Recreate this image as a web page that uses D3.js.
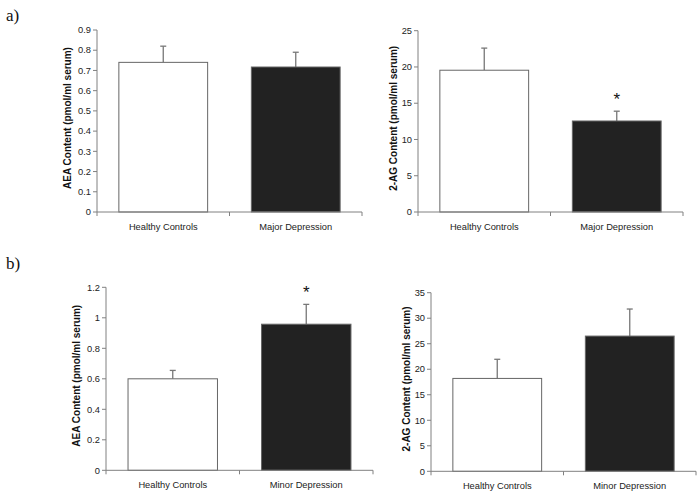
<!DOCTYPE html>
<html><head><meta charset="utf-8">
<script src="https://cdn.jsdelivr.net/npm/d3@7"></script>
<style>body{margin:0;background:#fff}svg{display:block}</style>
</head><body>
<svg id="c" width="700" height="492"></svg>
<script>
// Data
const groupsA = ["Healthy Controls", "Major Depression"];
const groupsB = ["Healthy Controls", "Minor Depression"];
const aeaMajor = [0.74, 0.717];
const aeaMajorErr = [0.08, 0.073];
const agMajor = [19.55, 12.55];
const agMajorErr = [3.05, 1.35];
const aeaMinor = [0.60, 0.958];
const aeaMinorErr = [0.055, 0.13];
const agMinor = [18.2, 26.5];
const agMinorErr = [3.75, 5.3];
const sigAeaMajor = [false, false];
const sigAgMajor = [false, true];
const sigAeaMinor = [false, true];
const sigAgMinor = [false, false];
const ticksAeaMajor = [0, 0.1, 0.2, 0.3, 0.4, 0.5, 0.6, 0.7, 0.8, 0.9];
const ticksAgMajor = [0, 5, 10, 15, 20, 25];
const ticksAeaMinor = [0, 0.2, 0.4, 0.6, 0.8, 1, 1.2];
const ticksAgMinor = [0, 5, 10, 15, 20, 25, 30, 35];
const titleAea = "AEA Content (pmol/ml serum)";
const titleAg = "2-AG Content (pmol/ml serum)";
const barFills = ["#ffffff", "#222222"];

const svg = d3.select("#c");
const axisCol = "#808080";
const sans = "Liberation Sans, Arial, sans-serif";

function panel(o) {
  const g = svg.append("g");
  const x = d3.scaleBand().domain(o.groups).range([o.x0, o.x1]).paddingInner(0.33).paddingOuter(0.165);
  const y = d3.scaleLinear().domain([0, o.ymax]).range([o.y0, o.y1]);
  o.groups.forEach((c, i) => {
    const v = o.values[i], e = o.errs[i];
    const cx = x(c) + x.bandwidth() / 2;
    g.append("line").attr("x1", cx).attr("x2", cx).attr("y1", y(v)).attr("y2", y(v + e))
      .attr("stroke", "#777").attr("stroke-width", 1.3);
    g.append("line").attr("x1", cx - 3).attr("x2", cx + 3).attr("y1", y(v + e)).attr("y2", y(v + e))
      .attr("stroke", "#777").attr("stroke-width", 1.3);
    g.append("rect").attr("x", x(c)).attr("y", y(v)).attr("width", x.bandwidth()).attr("height", y(0) - y(v))
      .attr("fill", barFills[i]).attr("stroke", "#666").attr("stroke-width", 1);
    if (o.sig[i]) {
      g.append("text").attr("x", cx).attr("y", y(v + e) - 6).attr("text-anchor", "middle")
        .attr("font-family", sans).attr("font-size", 17).attr("fill", "#111").text("*");
    }
  });
  g.append("line").attr("x1", o.x0).attr("x2", o.x0).attr("y1", o.y0).attr("y2", o.y1).attr("stroke", axisCol);
  o.ticks.forEach(t => {
    g.append("line").attr("x1", o.x0 - 4).attr("x2", o.x0).attr("y1", y(t)).attr("y2", y(t)).attr("stroke", axisCol);
    g.append("text").attr("x", o.x0 - 6).attr("y", y(t)).attr("dy", "0.35em").attr("text-anchor", "end")
      .attr("font-family", sans).attr("font-size", 9.3).attr("fill", "#222").text(t);
  });
  g.append("line").attr("x1", o.x0).attr("x2", o.x1).attr("y1", o.y0).attr("y2", o.y0).attr("stroke", axisCol);
  [o.x0, (o.x0 + o.x1) / 2, o.x1].forEach(tx => {
    g.append("line").attr("x1", tx).attr("x2", tx).attr("y1", o.y0).attr("y2", o.y0 + 4).attr("stroke", axisCol);
  });
  o.groups.forEach(c => {
    g.append("text").attr("x", x(c) + x.bandwidth() / 2).attr("y", o.y0 + 18).attr("text-anchor", "middle")
      .attr("font-family", sans).attr("font-size", 9.3).attr("fill", "#222").text(c);
  });
  g.append("text").attr("transform", `translate(${o.tx},${(o.y0 + o.y1) / 2 - 3}) rotate(-90)`)
    .attr("dy", "0.35em").attr("text-anchor", "middle")
    .attr("font-family", sans).attr("font-size", 10).attr("font-weight", "bold")
    .attr("fill", "#111").text(o.title);
}

panel({groups: groupsA, values: aeaMajor, errs: aeaMajorErr, sig: sigAeaMajor, ticks: ticksAeaMajor, ymax: 0.9,
  x0: 97, x1: 362, y0: 212, y1: 30, tx: 67, title: titleAea});
panel({groups: groupsA, values: agMajor, errs: agMajorErr, sig: sigAgMajor, ticks: ticksAgMajor, ymax: 25,
  x0: 418, x1: 683, y0: 212, y1: 30.7, tx: 393, title: titleAg});
panel({groups: groupsB, values: aeaMinor, errs: aeaMinorErr, sig: sigAeaMinor, ticks: ticksAeaMinor, ymax: 1.2,
  x0: 106, x1: 373, y0: 470.3, y1: 287.3, tx: 76, title: titleAea});
panel({groups: groupsB, values: agMinor, errs: agMinorErr, sig: sigAgMinor, ticks: ticksAgMinor, ymax: 35,
  x0: 431, x1: 696, y0: 471.3, y1: 292.7, tx: 406, title: titleAg});

svg.append("text").attr("x", 6).attr("y", 21).attr("font-family", "Liberation Serif, Times New Roman, serif")
  .attr("font-size", 17).attr("fill", "#111").text("a)");
svg.append("text").attr("x", 6).attr("y", 269).attr("font-family", "Liberation Serif, Times New Roman, serif")
  .attr("font-size", 17).attr("fill", "#111").text("b)");
</script>
</body></html>
